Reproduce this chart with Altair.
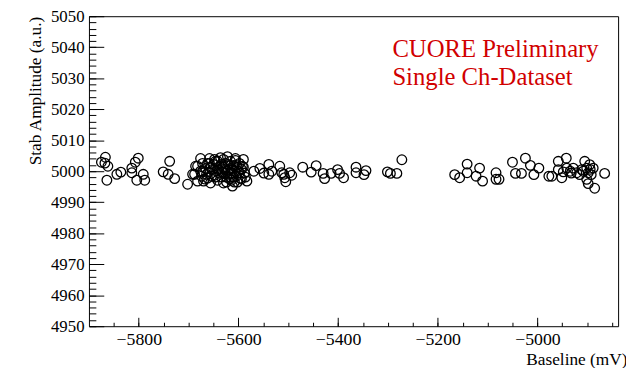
import altair as alt
import pandas as pd

# Baseline (mV) and Stab Amplitude (a.u.) values
baseline = [
    -5867, -5875, -5868, -5862, -5864, -5844, -5836, -5814, -5807, -5801,
    -5814, -5804, -5791, -5788, -5751, -5738, -5741, -5728, -5702, -5688,
    -5682, -5676, -5672, -5668, -5662, -5658, -5656, -5652, -5648, -5646,
    -5642, -5638, -5636, -5632, -5630, -5626, -5624, -5622, -5620, -5618,
    -5616, -5614, -5612, -5610, -5608, -5606, -5604, -5602, -5600, -5598,
    -5596, -5594, -5590, -5588, -5682, -5670, -5692, -5686, -5676, -5666,
    -5654, -5644, -5634, -5628, -5620, -5610, -5602, -5616, -5642, -5660,
    -5650, -5592, -5630, -5606, -5662, -5638, -5624, -5586, -5674, -5614,
    -5672, -5664, -5656, -5648, -5640, -5634, -5626, -5618, -5612, -5604,
    -5598, -5594, -5630, -5622, -5646, -5658, -5608, -5590,
    -5583, -5569, -5557, -5549, -5539, -5539, -5533, -5517, -5509,
    -5513, -5507, -5497, -5493, -5505, -5471, -5454, -5444, -5430, -5427,
    -5414, -5401, -5397, -5389, -5364, -5364, -5344, -5348, -5301, -5295,
    -5282, -5272, -5166, -5156, -5141, -5141,
    -5123, -5116, -5110, -5083, -5083, -5077, -5050, -5044, -5032, -5024,
    -5014, -5007, -4997, -4977, -4971, -4958, -4958, -4951, -4942, -4941,
    -4934, -4928, -4921, -4911, -4905, -4901, -4898, -4901, -4895, -4892,
    -4898, -4885, -4888, -4865, -4948, -4915, -4932, -4908, -4894,
]
amplitude = [
    5004.5, 5002.9, 5002.6, 5001.6, 4997.1, 4999.0, 4999.7, 5001.0, 5002.9, 5004.2,
    4999.5, 4997.1, 4999.0, 4997.1, 4999.8, 5003.2, 4999.0, 4997.6, 4995.8, 4999.0,
    5001.6, 5004.1, 5000.0, 4997.5, 5002.5, 5004.1, 4996.2, 5000.6, 4998.7, 5003.2,
    4997.1, 5001.6, 5004.4, 4999.7, 4996.2, 5002.5, 4998.1, 5004.7, 5000.6, 4999.0,
    5003.2, 4997.1, 4995.2, 5001.9, 5000.0, 5003.5, 4998.4, 5001.3, 5000.0, 5002.5,
    4997.8, 5000.6, 5003.8, 4999.4, 4996.8, 4996.8, 4999.0, 5001.6, 5000.0, 5000.9,
    4998.4, 5000.0, 4998.1, 5000.6, 5002.2, 4998.1, 4996.5, 5000.9, 5003.2, 4999.7,
    5002.2, 5001.6, 5003.8, 5004.1, 4997.8, 4999.4, 4996.5, 4998.1, 4998.4, 4999.4,
    5002.5, 4999.0, 5001.3, 5003.8, 5000.6, 5002.2, 4999.4, 4997.5, 5000.6, 5001.9,
    4999.4, 4997.5, 5001.3, 5000.0, 4998.1, 5002.5, 4996.5, 5001.3,
    4996.8, 5000.0, 5000.9, 4999.4, 5002.2, 4999.0, 5000.0, 5001.6, 4999.0,
    4999.5, 4997.9, 4999.5, 4998.7, 4996.6, 5001.3, 4999.7, 5001.8, 4999.3, 4997.6,
    4999.3, 5000.5, 4999.3, 4997.9, 5001.3, 4999.5, 5000.2, 4998.9, 4999.8, 4999.3,
    4999.3, 5003.7, 4998.9, 4997.9, 5002.3, 4999.5,
    4998.4, 5001.0, 4996.8, 4999.5, 4997.4, 4997.4, 5002.9, 4999.3, 4999.3, 5004.2,
    5001.9, 4998.9, 5001.0, 4998.4, 4998.4, 5003.2, 5000.5, 4997.9, 5004.2, 5001.0,
    5000.0, 5001.0, 4999.5, 5000.5, 5003.2, 5001.0, 4999.5, 4997.4, 5002.1, 4998.9,
    4996.0, 4994.5, 5001.0, 4999.3, 4999.8, 4998.9, 4999.4, 5000.0, 5000.6,
]

x_domain = [-5900, -4838]
y_domain = [4950, 5050]
x_major = [-5800, -5600, -5400, -5200, -5000]
x_minor = [v for v in range(-5850, -4838, 50)]
y_major = list(range(4950, 5051, 10))
y_minor = list(range(4950, 5051, 2))

annot_x = [-5291, -5291]
annot_y = [5037.0, 5027.8]
annot_text = ["CUORE Preliminary", "Single Ch-Dataset"]

FONT = "Liberation Serif"
W, H = 536, 314

df = pd.DataFrame({"baseline": baseline, "amp": amplitude})
ann = pd.DataFrame({"x": annot_x, "y": annot_y, "t": annot_text})

xs = alt.Scale(domain=x_domain, nice=False, zero=False)
ys = alt.Scale(domain=y_domain, nice=False, zero=False)

base = alt.Chart(df)

points = base.mark_point(
    shape="circle", filled=False, size=95, stroke="black", strokeWidth=1.3, opacity=1
).encode(
    x=alt.X("baseline:Q", scale=xs, axis=alt.Axis(
        orient="bottom", values=x_major, format="d", tickSize=0, domain=False,
        grid=False, labelFont=FONT, labelFontSize=18, labelColor="black",
        labelPadding=5, title="Baseline (mV)", titleFont=FONT,
        titleFontSize=17.5, titleFontWeight="normal", titleColor="black",
        titleX=W + 9, titleAlign="right", titleAnchor="end", titlePadding=2)),
    y=alt.Y("amp:Q", scale=ys, axis=alt.Axis(
        orient="left", values=y_major, format="d", tickSize=0, domain=False,
        grid=False, labelFont=FONT, labelFontSize=17, labelColor="black",
        labelPadding=5, title="Stab Amplitude (a.u.)", titleFont=FONT,
        titleFontSize=17.5, titleFontWeight="normal", titleColor="black",
        titleAnchor="end", titlePadding=6)),
)


def tick_layer(xvals, xlen, yvals, ylen):
    return base.mark_point(opacity=0).encode(
        x=alt.X("baseline:Q", scale=xs, axis=alt.Axis(
            orient="bottom", values=xvals, tickSize=xlen, offset=-xlen,
            labels=False, domain=False, grid=False, title=None,
            tickColor="black", tickWidth=1)),
        y=alt.Y("amp:Q", scale=ys, axis=alt.Axis(
            orient="left", values=yvals, tickSize=ylen, offset=-ylen,
            labels=False, domain=False, grid=False, title=None,
            tickColor="black", tickWidth=1)),
    )


major = tick_layer(x_major, 9, y_major, 15)
minor = tick_layer(x_minor, 4, y_minor, 7)

text = alt.Chart(ann).mark_text(
    align="left", baseline="alphabetic", font=FONT, fontSize=25, color="#d10000"
).encode(
    x=alt.X("x:Q", scale=xs, axis=None),
    y=alt.Y("y:Q", scale=ys, axis=None),
    text="t:N",
)

chart = alt.layer(points, major, minor, text).resolve_axis(
    x="independent", y="independent"
).properties(
    width=W, height=H,
    autosize=alt.AutoSizeParams(type="none"),
    padding={"left": 82, "top": 6, "right": 8, "bottom": 40},
).configure_view(
    stroke="black", strokeWidth=1
)

chart.save("out.html", embed_options={"renderer": "svg", "actions": False})
